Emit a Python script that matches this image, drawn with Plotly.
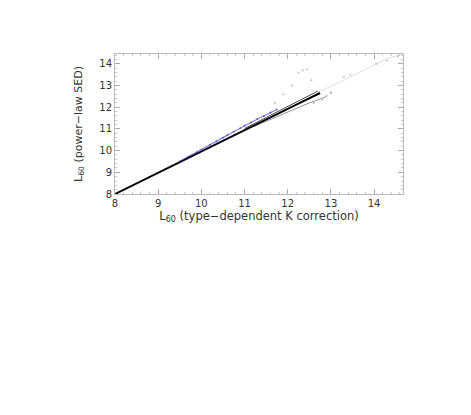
import plotly.graph_objects as go

# dense main relation (black)
main_x = [8.0, 9.0, 10.0, 11.0, 11.5, 12.0, 12.4, 12.75]
main_y = [8.0, 8.99, 9.98, 10.97, 11.45, 11.94, 12.32, 12.66]

# fanned branches near the bright end
upper_x = [11.0, 11.6, 12.2, 12.7]
upper_y = [11.02, 11.62, 12.22, 12.75]
lower_x = [11.2, 11.8, 12.4, 12.9]
lower_y = [11.1, 11.62, 12.12, 12.5]

# faint continuation towards the top right
tail_x = [12.7, 13.2, 13.8, 14.3, 14.65]
tail_y = [12.7, 13.15, 13.75, 14.25, 14.45]

# scattered outliers (grey)
grey_x = [11.7, 11.9, 12.1, 12.25, 12.35, 12.45, 12.55, 12.9, 13.0, 13.3, 13.45, 14.05, 14.3, 14.55, 12.6, 12.8, 13.0]
grey_y = [12.2, 12.6, 13.0, 13.6, 13.7, 13.75, 13.25, 12.55, 12.7, 13.4, 13.5, 14.0, 14.15, 14.35, 12.2, 12.35, 12.65]

# blue objects sitting slightly above the relation
blue_x = [9.5, 9.7, 9.9, 10.0, 10.2, 10.35, 10.5, 10.6, 10.75, 10.9, 11.0, 11.15, 11.3, 11.45, 11.6, 11.75]
blue_y = [9.51, 9.72, 9.93, 10.05, 10.26, 10.43, 10.6, 10.71, 10.88, 11.04, 11.16, 11.3, 11.46, 11.6, 11.76, 11.9]

x_ticks = [8, 9, 10, 11, 12, 13, 14]
y_ticks = [8, 9, 10, 11, 12, 13, 14]

fig = go.Figure()
fig.add_trace(go.Scatter(x=tail_x, y=tail_y, mode="lines",
                         line=dict(color="rgba(150,150,150,0.45)", width=0.7)))
fig.add_trace(go.Scatter(x=grey_x, y=grey_y, mode="markers",
                         marker=dict(color="rgba(110,110,110,0.5)", size=1.8)))
fig.add_trace(go.Scatter(x=upper_x, y=upper_y, mode="lines",
                         line=dict(color="#333", width=0.9)))
fig.add_trace(go.Scatter(x=lower_x, y=lower_y, mode="lines",
                         line=dict(color="#666", width=0.7)))
fig.add_trace(go.Scatter(x=main_x, y=main_y, mode="lines",
                         line=dict(color="#000", width=2)))
fig.add_trace(go.Scatter(x=blue_x, y=blue_y, mode="markers+lines",
                         line=dict(color="rgba(50,50,190,0.6)", width=1.3),
                         marker=dict(color="rgba(50,50,210,0.7)", size=1.8)))

axis_common = dict(
    showgrid=False, zeroline=False, showline=True, mirror="allticks",
    linecolor="#bbb", linewidth=1, ticks="inside", ticklen=5, tickcolor="#aaa",
    minor=dict(ticks="inside", ticklen=2, nticks=10, tickcolor="#c8c8c8"),
    tickfont=dict(family="DejaVu Sans", size=10, color="#333"),
)

fig.update_layout(
    width=471, height=415,
    margin=dict(l=107, r=76, t=46, b=229),
    paper_bgcolor="white", plot_bgcolor="white",
    showlegend=False,
    font=dict(family="DejaVu Sans", size=10, color="#333"),
)
fig.update_xaxes(range=[8, 14.67], tickvals=x_ticks, **axis_common,
                 title=dict(text="L<sub>60</sub> (type−dependent K correction)",
                            standoff=1, font=dict(size=11.5)))
fig.update_yaxes(range=[8, 14.46], tickvals=y_ticks, **axis_common,
                 title=dict(text="L<sub>60</sub> (power−law SED)",
                            standoff=14, font=dict(size=11)))

fig.write_html("out.html")
